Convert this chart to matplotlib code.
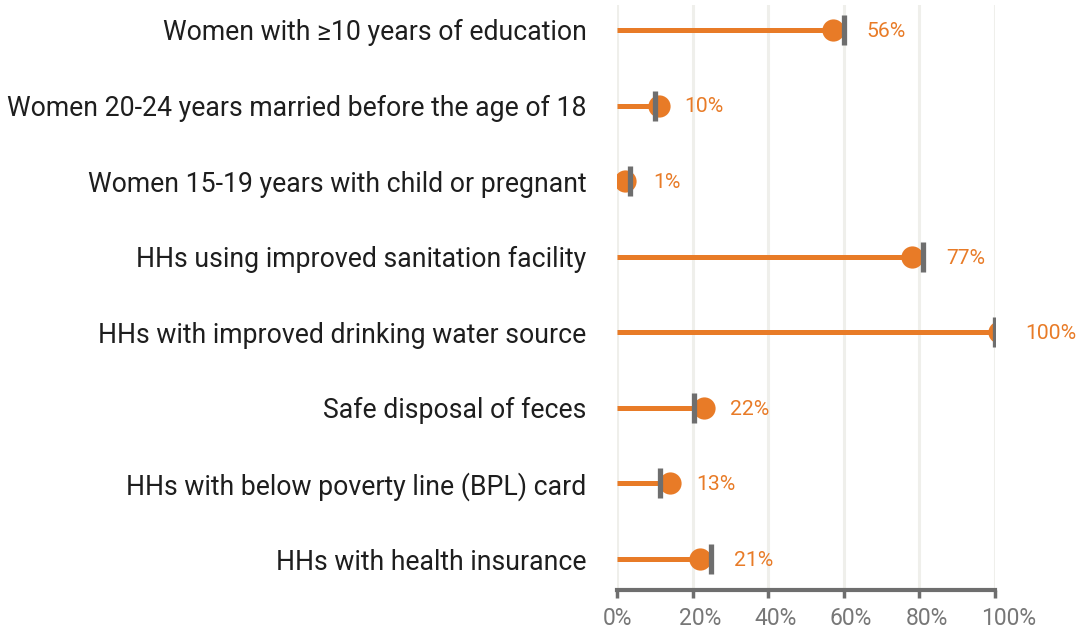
import numpy as np
import matplotlib
matplotlib.use("Agg")
from matplotlib import pyplot as plt
from matplotlib import transforms

# data
categories = ["Women with \u226510 years of education",
              "Women 20-24 years married before the age of 18",
              "Women 15-19 years with child or pregnant",
              "HHs using improved sanitation facility",
              "HHs with improved drinking water source",
              "Safe disposal of feces",
              "HHs with below poverty line (BPL) card",
              "HHs with health insurance"]
values = [56, 10, 1, 77, 100, 22, 13, 21]
benchmark = [60, 10, 3.5, 81, 100, 20.5, 11.5, 25]
ticks = [0, 20, 40, 60, 80, 100]

orange = "#e87b27"
grey = "#6e6e6e"

plt.rcParams['font.family'] = ['Roboto', 'DejaVu Sans']

fig = plt.figure(figsize=(10.76, 6.28), dpi=100)
ax = fig.add_axes([0.5734, 0.0605, 0.3513, 0.9315])

y = np.arange(len(categories))

# light vertical grid
for t in ticks:
    ax.axvline(t, color="#efefeb", lw=2.2, zorder=0)

# stems, dots and benchmark marks
ax.hlines(y, 0, values, color=orange, lw=3.6, zorder=2)
dot_shift = ax.transData + transforms.ScaledTranslation(4 / 100, 0, fig.dpi_scale_trans)
ax.plot(values, y, "o", color=orange, ms=16, mec="none", zorder=3,
        transform=dot_shift)
ax.plot(benchmark, y, "|", color=grey, ms=21, mew=3.8, zorder=4)

# value labels, placed right of whichever mark is further out
for yi, v, b in zip(y, values, benchmark):
    if v + 8.2 >= b + 6.1:
        xy, off = v, 21.5
    else:
        xy, off = b, 16.5
    ax.annotate(f"{v}%", xy=(xy, yi), xytext=(off, -1),
                textcoords="offset points", va="center", ha="left",
                color=orange, fontsize=15.2, annotation_clip=False)

ax.set_xlim(0, 100)
ax.set_ylim(7.41, -0.33)
ax.set_yticks(y)
ax.set_yticklabels(categories, fontsize=19.2, color="#1e1e1e")
ax.tick_params(axis="y", length=0, pad=22)
ax.set_xticks(ticks)
ax.set_xticklabels([f"{t}%" for t in ticks], fontsize=16.5, color="#777777")
ax.tick_params(axis="x", length=6, width=2.5, color=grey, pad=6)
shift = transforms.ScaledTranslation(-14 / 100, 0, fig.dpi_scale_trans)
for lab in ax.get_xticklabels():
    lab.set_ha("left")
    lab.set_transform(lab.get_transform() + shift)

for s in ["top", "right", "left"]:
    ax.spines[s].set_visible(False)
ax.spines["bottom"].set_color(grey)
ax.spines["bottom"].set_linewidth(3)

plt.savefig("out.png", dpi=100)
